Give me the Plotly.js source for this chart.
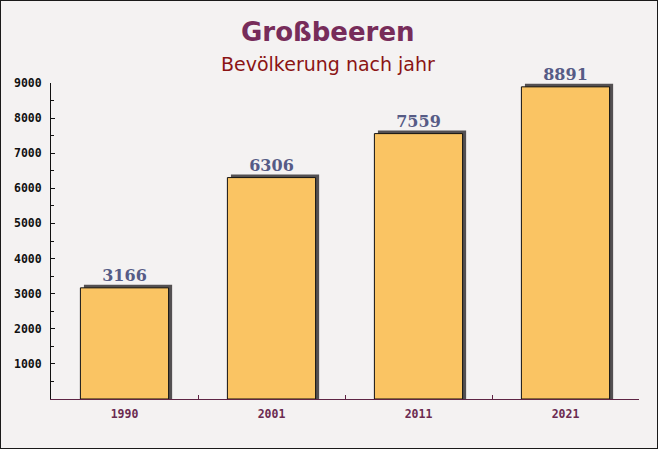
<!DOCTYPE html>
<html>
<head>
<meta charset="utf-8">
<script src="https://cdn.plot.ly/plotly-3.0.1.min.js"></script>
<style>
  html, body { margin: 0; padding: 0; background: #f4f2f2; }
  #chart { width: 656px; height: 447px; border: 1px solid #1a1a1a; }
</style>
</head>
<body>
<div id="chart"></div>
<script>
const years = ['1990', '2001', '2011', '2021'];
const population = [3166, 6306, 7559, 8891];
const yTickValues = [1000, 2000, 3000, 4000, 5000, 6000, 7000, 8000, 9000];
const titleText = 'Großbeeren';
const subtitleText = 'Bevölkerung nach jahr';

// decorative drop shadow: ~3px above the bar top
const shadowLift = 85;
const shadow = {
  type: 'bar', x: years, y: population.map(v => v + shadowLift),
  width: 0.6, offset: -0.276,
  marker: { color: '#535052', line: { width: 0 } },
  hoverinfo: 'skip', showlegend: false
};
const bars = {
  type: 'bar', x: years, y: population,
  width: 0.6, offset: -0.3,
  marker: { color: '#fac463', line: { color: '#111', width: 1 } },
  text: population.map(String), textposition: 'outside',
  textfont: { family: 'DejaVu Serif', size: 16, color: '#565b86', weight: 'bold' },
  cliponaxis: false, showlegend: false
};

const layout = {
  width: 656, height: 447,
  margin: { l: 50, r: 18, t: 82, b: 49, pad: 0 },
  paper_bgcolor: '#f4f2f2', plot_bgcolor: 'rgba(0,0,0,0)',
  barmode: 'overlay',
  showlegend: false,
  xaxis: {
    type: 'category', showgrid: false, zeroline: false,
    showline: true, linecolor: '#5e2444', linewidth: 1,
    ticks: 'inside', tickson: 'boundaries', ticklen: 4, tickcolor: '#5e2444',
    tickfont: { family: 'DejaVu Sans Mono', size: 11.5, color: '#6b2a50', weight: 'bold' },
    ticklabelstandoff: 4,
    range: [-0.5, 3.5]
  },
  yaxis: {
    range: [0, 9000], showgrid: false, zeroline: false,
    showline: true, linecolor: '#111', linewidth: 1,
    tickmode: 'array', tickvals: yTickValues,
    ticks: 'inside', ticklen: 4, tickcolor: '#111',
    minor: { dtick: 500, ticks: 'inside', ticklen: 3, tickcolor: '#111', showgrid: false },
    tickfont: { family: 'DejaVu Sans Mono', size: 11.5, color: '#111', weight: 'bold' },
    ticklabelstandoff: 6
  },
  annotations: [
    { text: titleText, xref: 'paper', yref: 'paper', x: 0.471, y: 1, yshift: 51,
      xanchor: 'center', yanchor: 'middle', showarrow: false,
      font: { family: 'DejaVu Sans', size: 26, color: '#772c5a', weight: 'bold' } },
    { text: subtitleText, xref: 'paper', yref: 'paper', x: 0.471, y: 1, yshift: 19,
      xanchor: 'center', yanchor: 'middle', showarrow: false,
      font: { family: 'DejaVu Sans', size: 19, color: '#8b1414' } }
  ]
};

Plotly.newPlot('chart', [shadow, bars], layout, { displayModeBar: false, staticPlot: true });
</script>
</body>
</html>
